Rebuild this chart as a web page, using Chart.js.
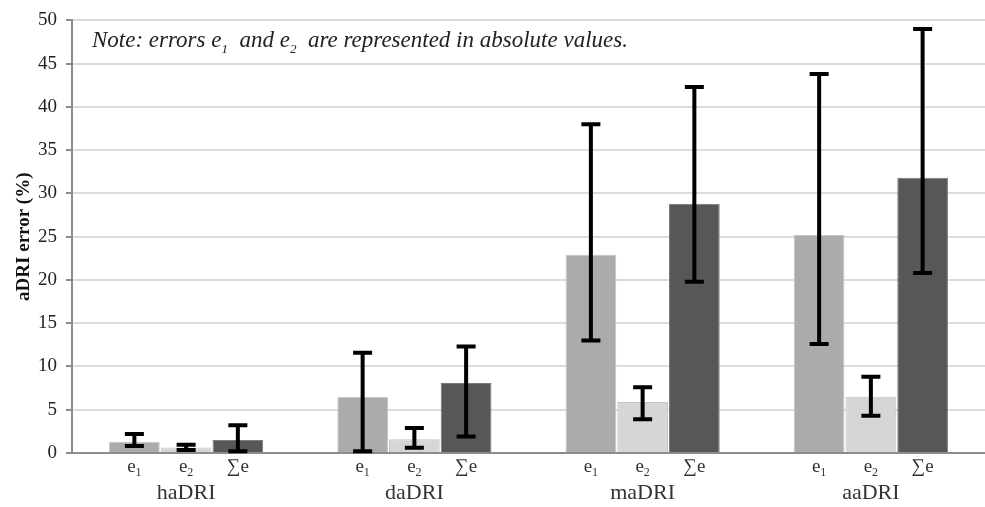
<!DOCTYPE html>
<html>
<head>
<meta charset="utf-8">
<script src="https://cdn.jsdelivr.net/npm/chart.js@4.4.1/dist/chart.umd.min.js"></script>
<style>
    html, body { margin: 0; padding: 0; background: #ffffff; }
    #wrap { position: relative; width: 985px; height: 507px; }
    #note {
        position: absolute;
        left: 92px;
        top: 27px;
        font-family: "Liberation Serif", serif;
        font-style: italic;
        font-size: 23px;
        color: #222222;
        white-space: nowrap;
    }
    #note sub { font-size: 13px; vertical-align: -6px; line-height: 0; }
</style>
</head>
<body>
<div id="wrap">
    <canvas id="errChart" width="985" height="507"></canvas>
    <div id="note">Note: errors e<sub>1</sub>&nbsp; and e<sub>2</sub>&nbsp; are represented in absolute values.</div>
</div>
<script>
const groups = ["haDRI", "daDRI", "maDRI", "aaDRI"];
const seriesNames = ["e1", "e2", "Σe"];
const yTicks = [0, 5, 10, 15, 20, 25, 30, 35, 40, 45, 50];

const e1Values = [1.3, 6.5, 22.9, 25.2];
const e2Values = [0.65, 1.6, 5.9, 6.5];
const sumValues = [1.5, 8.1, 28.8, 31.8];

const e1Low = [0.8, 0.2, 13.0, 12.6];
const e1High = [2.2, 11.6, 38.0, 43.8];
const e2Low = [0.35, 0.6, 3.9, 4.3];
const e2High = [0.95, 2.9, 7.6, 8.8];
const sumLow = [0.2, 1.9, 19.8, 20.8];
const sumHigh = [3.2, 12.3, 42.3, 49.0];

const barColors = ["#ababab", "#d6d6d6", "#575757"];
const SERIF = "'Liberation Serif', 'Times New Roman', serif";

const errorRanges = [
    { low: e1Low, high: e1High },
    { low: e2Low, high: e2High },
    { low: sumLow, high: sumHigh }
];

// whiskers on top of every bar
const errorBarPlugin = {
    id: "errorBars",
    afterDatasetsDraw(chart) {
        const ctx = chart.ctx;
        const yScale = chart.scales.y;
        ctx.save();
        ctx.strokeStyle = "#000000";
        ctx.lineWidth = 4;
        chart.data.datasets.forEach((ds, di) => {
            const meta = chart.getDatasetMeta(di);
            meta.data.forEach((bar, i) => {
                const yLow = yScale.getPixelForValue(errorRanges[di].low[i]);
                const yHigh = yScale.getPixelForValue(errorRanges[di].high[i]);
                const half = 9.5;
                ctx.beginPath();
                ctx.moveTo(bar.x, yLow);
                ctx.lineTo(bar.x, yHigh);
                ctx.moveTo(bar.x - half, yLow);
                ctx.lineTo(bar.x + half, yLow);
                ctx.moveTo(bar.x - half, yHigh);
                ctx.lineTo(bar.x + half, yHigh);
                ctx.stroke();
            });
        });
        ctx.restore();
    }
};

// e1 / e2 / Σe labels under each bar
const barLabelPlugin = {
    id: "barLabels",
    afterDraw(chart) {
        const ctx = chart.ctx;
        const base = chart.chartArea.bottom;
        ctx.save();
        ctx.fillStyle = "#333333";
        ctx.textBaseline = "alphabetic";
        chart.data.datasets.forEach((ds, di) => {
            const meta = chart.getDatasetMeta(di);
            meta.data.forEach((bar) => {
                const y = base + 19;
                if (di < 2) {
                    ctx.font = "19px " + SERIF;
                    const w = ctx.measureText("e").width;
                    ctx.font = "12px " + SERIF;
                    const sw = ctx.measureText(String(di + 1)).width;
                    const x0 = bar.x - (w + sw) / 2;
                    ctx.font = "19px " + SERIF;
                    ctx.textAlign = "left";
                    ctx.fillText("e", x0, y);
                    ctx.font = "12px " + SERIF;
                    ctx.fillText(String(di + 1), x0 + w, y + 4);
                } else {
                    ctx.font = "19px " + SERIF;
                    ctx.textAlign = "center";
                    ctx.fillText("∑e", bar.x, y);
                }
            });
        });
        ctx.restore();
    }
};

const datasets = [e1Values, e2Values, sumValues].map((values, i) => ({
    label: seriesNames[i],
    data: values,
    backgroundColor: barColors[i],
    borderColor: i === 2 ? "#7a7a7a" : "#c4c4c4",
    borderWidth: 1,
    barPercentage: 0.98,
    categoryPercentage: 0.68
}));

new Chart(document.getElementById("errChart").getContext("2d"), {
    type: "bar",
    data: { labels: groups, datasets },
    options: {
        responsive: false,
        animation: false,
        layout: { padding: { top: 11, right: 0, left: 0, bottom: 0 } },
        plugins: {
            legend: { display: false },
            tooltip: { enabled: false }
        },
        scales: {
            x: {
                afterFit(scale) {
                    scale.height = 54;
                },
                grid: { display: false, drawTicks: false },
                border: { color: "#8c8c8c", width: 2 },
                ticks: {
                    color: "#333333",
                    padding: 27,
                    font: { family: SERIF, size: 22 }
                }
            },
            y: {
                min: 0,
                max: 50,
                afterFit(scale) {
                    scale.width = 72;
                },
                afterBuildTicks(axis) {
                    axis.ticks = yTicks.map((v) => ({ value: v }));
                },
                grid: {
                    color: "#dcdcdc",
                    lineWidth: 2,
                    tickLength: 6,
                    tickColor: "#8c8c8c"
                },
                border: { color: "#8c8c8c", width: 2 },
                ticks: {
                    color: "#222222",
                    padding: 9,
                    font: { family: SERIF, size: 19 }
                },
                title: {
                    display: true,
                    text: "aDRI error (%)",
                    color: "#111111",
                    padding: { top: 13, bottom: 0 },
                    font: { family: SERIF, size: 19, weight: "bold" }
                }
            }
        }
    },
    plugins: [errorBarPlugin, barLabelPlugin]
});
</script>
</body>
</html>
